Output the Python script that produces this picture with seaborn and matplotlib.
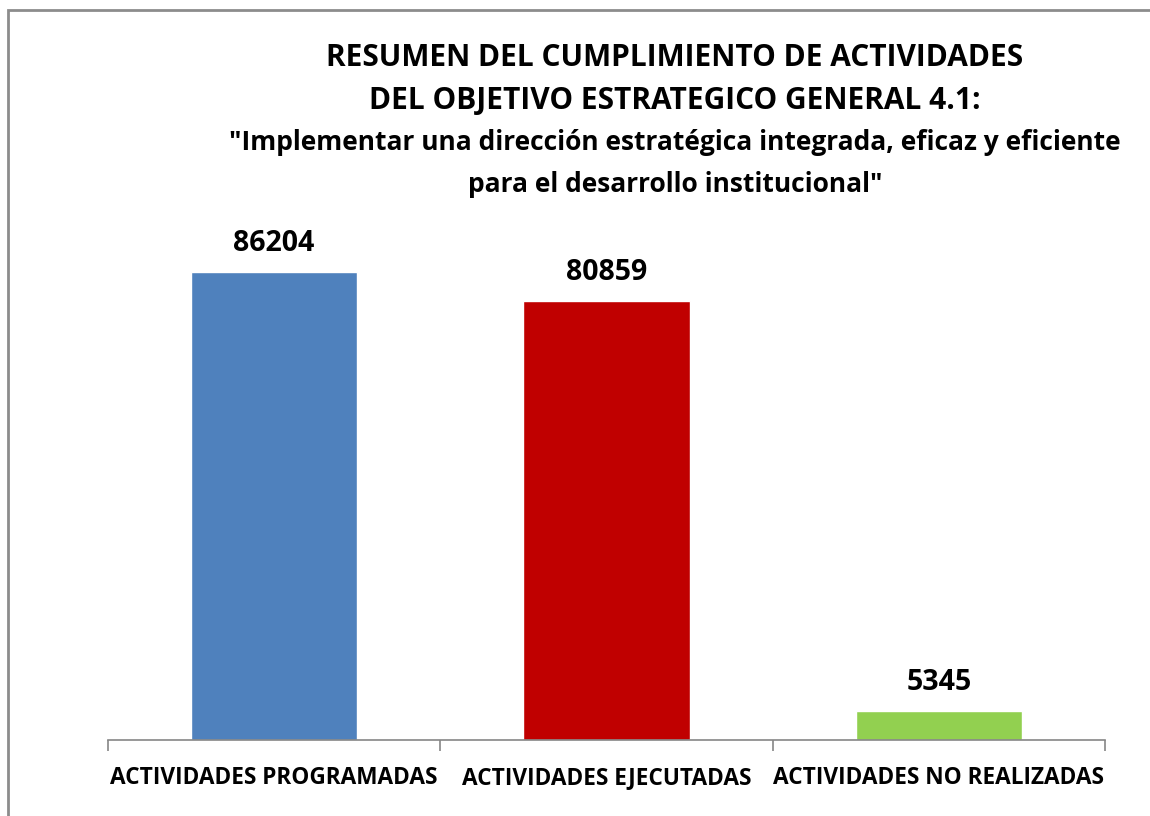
import matplotlib
matplotlib.use("Agg")
import matplotlib.pyplot as plt
import seaborn as sns
import pandas as pd
from matplotlib.patches import Rectangle

categories = ["ACTIVIDADES PROGRAMADAS", "ACTIVIDADES EJECUTADAS", "ACTIVIDADES NO REALIZADAS"]
values = [86204, 80859, 5345]
colors = ["#4F81BD", "#C00000", "#92D050"]

sns.set_style("white")
plt.rcParams["font.family"] = ["Open Sans", "DejaVu Sans"]
plt.rcParams["text.color"] = "black"
plt.rcParams["xtick.color"] = "#868686"
plt.rcParams["xtick.labelcolor"] = "black"

df = pd.DataFrame({"Categoria": categories, "Valor": values})

fig = plt.figure(figsize=(11.5, 8.16), dpi=100)
ax = fig.add_axes([108 / 1150, 1 - 740 / 816, 997 / 1150, 543 / 816])

sns.barplot(data=df, x="Categoria", y="Valor", hue="Categoria", palette=colors,
            width=0.5, saturation=1, legend=False, ax=ax)

ax.set_ylim(0, 100000)
ax.set_xlim(-0.5, 2.5)
ax.set_xlabel("")
ax.set_ylabel("")
ax.set_yticks([])
for s in ["top", "right", "left"]:
    ax.spines[s].set_visible(False)
ax.spines["bottom"].set_color("#868686")
ax.spines["bottom"].set_linewidth(1.2)

# category boundary ticks
ax.set_xticks(range(len(categories)))
ax.set_xticklabels(categories, fontsize=16.3, fontweight="bold")
ax.set_xticks([-0.5, 0.5, 1.5, 2.5], minor=True)
ax.tick_params(axis="x", which="minor", bottom=True, length=8, width=1.2, direction="out")
ax.tick_params(axis="x", which="major", bottom=False, length=0, pad=19)

for i, v in enumerate(values):
    ax.text(i, v + 2500, str(v), ha="center", va="bottom", fontsize=20.5, fontweight="bold")

cx = 675 / 1150
fig.text(cx, 1 - 58 / 816, "RESUMEN DEL CUMPLIMIENTO DE ACTIVIDADES", ha="center", va="center",
         fontsize=21.5, fontweight="bold")
fig.text(cx, 1 - 101 / 816, "DEL OBJETIVO ESTRATEGICO GENERAL 4.1:", ha="center", va="center",
         fontsize=21.5, fontweight="bold")
fig.text(cx, 1 - 143 / 816, "\"Implementar una dirección estratégica integrada, eficaz y eficiente",
         ha="center", va="center", fontsize=19, fontweight="bold")
fig.text(cx, 1 - 184 / 816, "para el desarrollo institucional\"", ha="center", va="center",
         fontsize=19, fontweight="bold")

fig.patches.append(Rectangle((8 / 1150, -0.1), 1.2, 1 - 10 / 816 + 0.1, transform=fig.transFigure,
                             fill=False, edgecolor="#8c8c8c", linewidth=2))

fig.savefig("out.png", dpi=100)
